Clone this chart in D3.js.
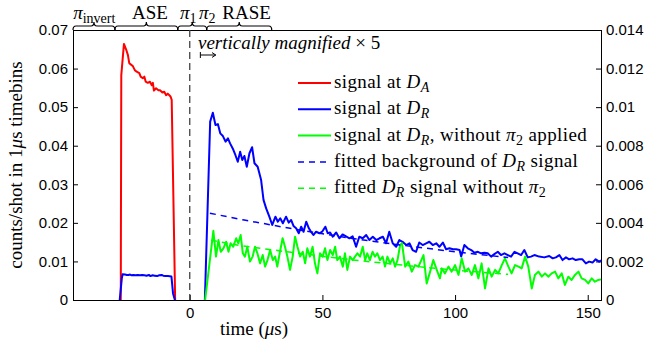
<!DOCTYPE html>
<html>
<head>
<meta charset="utf-8">
<script src="https://cdn.jsdelivr.net/npm/d3@7"></script>
<style>
  body { margin: 0; background: #fff; }
  #chart text { font-family: 'Liberation Serif', serif; }
  #chart .tick text { font-family: 'Liberation Sans', sans-serif; font-size: 15px; fill: #000; }
</style>
</head>
<body>
<svg id="chart" width="649" height="353"></svg>
<script>
// ---- data (time in µs, counts/shot) ----
// signal at D_A (left axis)
const signalDA = [
  [-26.0, 0], [-25.8, 0.0583], [-24.8, 0.0664], [-24.0, 0.0650], [-23.3, 0.0635],
  [-22.8, 0.0614], [-21.9, 0.0609], [-21.5, 0.0607], [-20.7, 0.0596], [-20.0, 0.0592],
  [-19.0, 0.0588], [-18.5, 0.0579], [-17.7, 0.0575], [-17.1, 0.0579], [-16.6, 0.0566],
  [-15.8, 0.0563], [-15.0, 0.0566], [-14.3, 0.0557], [-13.9, 0.0563], [-13.5, 0.0543],
  [-12.7, 0.0549], [-11.8, 0.0544], [-11.2, 0.0544], [-10.3, 0.0538], [-9.6, 0.0540],
  [-8.9, 0.0531], [-8.3, 0.0535], [-7.7, 0.0531], [-7.2, 0.0527], [-6.8, 0.0519],
  [-5.5, 0]
];

// signal at D_R during the ASE window (left axis)
const signalDRase = [
  [-26.4, 0], [-25.6, 0.0056], [-25.3, 0.0067], [-24.4, 0.0066], [-23.7, 0.0065],
  [-23.1, 0.0065], [-22.5, 0.0066], [-21.9, 0.0064], [-21.3, 0.0065], [-20.4, 0.0064],
  [-19.6, 0.0065], [-18.8, 0.0064], [-17.9, 0.0065], [-17.1, 0.0064], [-16.3, 0.0063],
  [-15.4, 0.0065], [-14.8, 0.0062], [-14.0, 0.0064], [-13.2, 0.0063], [-12.3, 0.0062],
  [-11.5, 0.0064], [-10.6, 0.0065], [-10.0, 0.0063], [-9.2, 0.0062], [-8.2, 0.0062],
  [-6.9, 0.0061], [-6.3, 0.0017], [-5.6, 0]
];

// signal at D_R after the pulses (right axis, magnified x5)
const signalDR = [
  [5.7, 0], [7.7, 0.00925], [8.7, 0.00971], [9.7, 0.00907], [10.6, 0.00912], [11.5, 0.00864],
  [12.5, 0.0085], [13.5, 0.00821], [14.4, 0.00838], [15.2, 0.00812], [16.2, 0.00786],
  [17.2, 0.00752], [18.1, 0.00717], [19.0, 0.00769], [19.8, 0.00726], [20.6, 0.00747],
  [21.5, 0.00691], [22.5, 0.00761], [23.5, 0.00792], [24.4, 0.00709], [25.6, 0.00691],
  [26.9, 0.00622], [27.8, 0.00519], [28.8, 0.00475], [30.0, 0.00432], [31.1, 0.00389],
  [32.3, 0.00432], [33.2, 0.00406], [34.1, 0.00424], [35.1, 0.00398], [36.3, 0.00432],
  [37.3, 0.00401], [38.2, 0.00415], [39.1, 0.00384], [40.1, 0.00372], [41.1, 0.00346],
  [42.0, 0.0038], [42.9, 0.00354], [43.9, 0.00406], [44.9, 0.00372], [45.7, 0.00354],
  [46.6, 0.00337], [47.6, 0.00354], [48.9, 0.00346], [49.9, 0.00354], [51.1, 0.0038],
  [52.0, 0.00346], [52.9, 0.0035], [53.9, 0.00328], [55.2, 0.0035], [56.4, 0.0032],
  [57.6, 0.0034], [58.9, 0.0033], [60.2, 0.0032], [61.4, 0.0033], [62.7, 0.00276],
  [63.9, 0.00328], [65.2, 0.0032], [66.5, 0.00337], [67.7, 0.00311], [69.0, 0.00328],
  [70.3, 0.00311], [71.5, 0.0032], [72.8, 0.00328], [74.0, 0.00294], [75.2, 0.00354],
  [76.5, 0.00294], [77.8, 0.00276], [79.0, 0.00311], [80.2, 0.00302], [81.6, 0.00285],
  [82.8, 0.00294], [84.0, 0.00259], [85.3, 0.0025], [86.5, 0.00298], [87.8, 0.00285],
  [89.1, 0.00294], [90.3, 0.00302], [91.6, 0.00285], [92.9, 0.00294], [94.1, 0.00276],
  [95.4, 0.00298], [96.6, 0.00263], [97.9, 0.00268], [99.2, 0.00263], [100.4, 0.00263],
  [101.7, 0.00259], [102.3, 0.00225], [103.5, 0.00285], [104.8, 0.00268], [106.1, 0.00259],
  [107.3, 0.00245], [108.6, 0.0025], [109.8, 0.00242], [111.1, 0.00245], [112.3, 0.00242],
  [113.6, 0.00225], [114.8, 0.00238], [116.1, 0.0025], [117.3, 0.00233], [118.6, 0.00242],
  [119.9, 0.00233], [121.1, 0.00225], [122.4, 0.0025], [123.6, 0.00242], [124.9, 0.00233],
  [126.1, 0.00259], [127.4, 0.00221], [128.6, 0.00225], [129.9, 0.00233], [131.7, 0.00225],
  [133.6, 0.00221], [135.5, 0.00228], [136.8, 0.00216], [138.0, 0.00221], [139.3, 0.00233],
  [140.5, 0.00207], [141.8, 0.00221], [143.0, 0.00211], [144.3, 0.00216], [145.5, 0.00207],
  [146.8, 0.00211], [148.0, 0.00211], [149.3, 0.0019], [150.5, 0.00199], [151.8, 0.00194],
  [153.0, 0.00211], [154.3, 0.00199], [155.0, 0.00205]
];

// signal at D_R without pi_2 (right axis)
const signalDRnoPi2 = [
  [5.8, 0], [8.9, 0.00359], [9.9, 0.00225], [10.8, 0.00311], [11.7, 0.0025], [12.7, 0.00268],
  [13.7, 0.00302], [14.6, 0.0025], [15.4, 0.00294], [16.4, 0.00276], [17.5, 0.0032],
  [18.3, 0.00294], [19.2, 0.00337], [20.0, 0.00242], [20.8, 0.00225], [21.7, 0.00276],
  [22.7, 0.00199], [23.7, 0.00225], [24.6, 0.00276], [25.5, 0.00242], [26.5, 0.0019],
  [27.5, 0.00233], [28.4, 0.00173], [29.3, 0.00207], [30.3, 0.00259], [31.3, 0.00207],
  [32.2, 0.00225], [33.0, 0.00173], [34.0, 0.0025], [35.0, 0.0032], [35.9, 0.00276],
  [36.8, 0.00225], [37.8, 0.00156], [38.8, 0.00225], [39.7, 0.00328], [40.6, 0.00276],
  [41.6, 0.00225], [42.6, 0.0025], [43.5, 0.0019], [44.3, 0.00268], [45.3, 0.00225],
  [46.3, 0.00276], [47.2, 0.0019], [48.1, 0.00138], [49.1, 0.00242], [50.1, 0.00225],
  [51.0, 0.00268], [51.9, 0.00207], [52.9, 0.00259], [53.9, 0.00233], [54.8, 0.00276],
  [55.6, 0.00207], [56.6, 0.00225], [57.7, 0.00173], [58.5, 0.00242], [59.4, 0.00156],
  [60.4, 0.00225], [61.4, 0.00207], [62.3, 0.00225], [63.2, 0.00242], [64.2, 0.00225],
  [65.2, 0.00276], [66.1, 0.00207], [66.9, 0.00242], [67.9, 0.00207], [68.9, 0.0025],
  [69.8, 0.00225], [70.7, 0.00242], [71.7, 0.00207], [72.7, 0.00225], [73.6, 0.00173],
  [74.5, 0.00225], [75.5, 0.0019], [76.5, 0.00216], [77.4, 0.00173], [78.3, 0.00207],
  [79.3, 0.00285], [80.0, 0.00294], [81.2, 0.00173], [82.4, 0.00199], [83.7, 0.00147],
  [84.9, 0.00181], [86.2, 0.00173], [88.1, 0.00233], [89.3, 0.00086], [90.6, 0.00147],
  [91.8, 0.00207], [93.1, 0.00156], [94.3, 0.00112], [95.0, 0.00164], [96.2, 0.00138],
  [97.5, 0.00173], [98.7, 0.00147], [100.0, 0.00181], [101.3, 0.0013], [102.5, 0.00216],
  [103.8, 0.00147], [105.0, 0.00164], [106.3, 0.0013], [107.5, 0.00181], [108.8, 0.00112],
  [110.0, 0.0019], [111.3, 0.0006], [112.6, 0.00164], [113.8, 0.00121], [115.1, 0.00156],
  [116.3, 0.00138], [117.6, 0.00181], [118.8, 0.00216], [120.1, 0.00173], [121.3, 0.00138],
  [122.6, 0.00181], [123.9, 0.00173], [125.1, 0.00164], [126.4, 0.00225], [127.6, 0.00173],
  [128.9, 0.0006], [130.1, 0.0013], [131.4, 0.00147], [132.7, 0.00121], [133.9, 0.00138],
  [135.2, 0.00121], [136.4, 0.00138], [137.7, 0.00147], [138.9, 0.00112], [140.2, 0.00138],
  [141.4, 0.00078], [142.7, 0.00121], [143.9, 0.00104], [145.2, 0.0013], [146.5, 0.00147],
  [147.7, 0.00112], [149.0, 0.00104], [150.2, 0.00086], [151.5, 0.00112], [152.7, 0.00095],
  [154.0, 0.00104], [155.0, 0.00107]
];

// fitted curves (right axis)
const fitBackground = [
  [7.6, 0.0045], [20, 0.00416], [40, 0.00366], [60, 0.00322], [80, 0.00284], [100, 0.0025], [120, 0.0022]
];
const fitNoPi2 = [
  [8, 0.0031], [20, 0.0028], [40, 0.00244], [60, 0.0021], [80, 0.00181], [100, 0.00155], [120, 0.00133]
];

const xTicks = [0, 50, 100, 150];
const leftTicks = [0, 0.01, 0.02, 0.03, 0.04, 0.05, 0.06, 0.07];
const rightTicks = [0, 0.002, 0.004, 0.006, 0.008, 0.01, 0.012, 0.014];

// pulse sequence phases shown with braces above the plot
const phases = [
  { from: -44, to: -28.2 },
  { from: -28.2, to: -4.5 },
  { from: -4.5, to: 6.4 },
  { from: 6.4, to: 30.9 }
];
const phaseLabels = [
  { t: -36, main: 'π', sub: 'invert' },
  { t: -15, main: 'ASE' },
  { t: -0.6, main: 'π', sub: '1' },
  { t: 6.6, main: 'π', sub: '2' },
  { t: 21.4, main: 'RASE' }
];

const legendItems = [
  { color: '#ff0000', dash: null, parts: [['signal at ', 'n'], ['D', 'i'], ['A', 'si']] },
  { color: '#0000ff', dash: null, parts: [['signal at ', 'n'], ['D', 'i'], ['R', 'si']] },
  { color: '#00ff00', dash: null, parts: [['signal at ', 'n'], ['D', 'i'], ['R', 'si'], [', without ', 'n'], ['π', 'i'], ['2', 's'], [' applied', 'n']] },
  { color: '#0000ff', dash: '6,5', parts: [['fitted background of ', 'n'], ['D', 'i'], ['R', 'si'], [' signal', 'n']] },
  { color: '#00ff00', dash: '6,5', parts: [['fitted ', 'n'], ['D', 'i'], ['R', 'si'], [' signal without ', 'n'], ['π', 'i'], ['2', 's']] }
];

// ---- layout ----
const width = 649, height = 353;
const margin = { top: 30, right: 48, bottom: 53, left: 73 };

const svg = d3.select('#chart');

const x = d3.scaleLinear()
  .domain([-44, 155])
  .range([margin.left, width - margin.right]);

const yLeft = d3.scaleLinear()
  .domain([0, 0.07])
  .range([height - margin.bottom, margin.top]);

const yRight = d3.scaleLinear()
  .domain([0, 0.014])
  .range([height - margin.bottom, margin.top]);

const x0 = margin.left, x1 = width - margin.right;
const y0 = height - margin.bottom, y1 = margin.top;

// axes (ticks point inwards, MATLAB style)
const fmt = d => d === 0 ? '0' : String(+d.toFixed(3));

svg.append('g')
  .attr('transform', `translate(0,${y0})`)
  .call(d3.axisBottom(x).tickValues(xTicks).tickSize(-5).tickPadding(7).tickFormat(d => d))
  .call(g => g.select('.domain').remove());

svg.append('g')
  .attr('transform', `translate(${x0},0)`)
  .call(d3.axisLeft(yLeft).tickValues(leftTicks).tickSize(-5).tickPadding(5).tickFormat(fmt))
  .call(g => g.select('.domain').remove());

svg.append('g')
  .attr('transform', `translate(${x1},0)`)
  .call(d3.axisRight(yRight).tickValues(rightTicks).tickSize(-5).tickPadding(5).tickFormat(fmt))
  .call(g => g.select('.domain').remove());

svg.selectAll('.tick line').attr('stroke', '#000');

// box
svg.append('rect')
  .attr('x', x0 + 0.5)
  .attr('y', y1 + 0.5)
  .attr('width', x1 - x0)
  .attr('height', y0 - y1)
  .attr('fill', 'none')
  .attr('stroke', '#000')
  .attr('stroke-width', 1);

// t = 0 marker
svg.append('line')
  .attr('x1', x(0)).attr('x2', x(0))
  .attr('y1', y1).attr('y2', y0)
  .attr('stroke', '#444')
  .attr('stroke-width', 1.3)
  .attr('stroke-dasharray', '7,4');

// series
const lineL = d3.line().x(d => x(d[0])).y(d => yLeft(d[1]));
const lineR = d3.line().x(d => x(d[0])).y(d => yRight(d[1]));

const plot = svg.append('g');

plot.append('path').datum(signalDA)
  .attr('d', lineL).attr('fill', 'none')
  .attr('stroke', '#ff0000').attr('stroke-width', 2).attr('stroke-linejoin', 'round');

plot.append('path').datum(signalDRase)
  .attr('d', lineL).attr('fill', 'none')
  .attr('stroke', '#0000ff').attr('stroke-width', 2).attr('stroke-linejoin', 'round');

plot.append('path').datum(signalDR)
  .attr('d', lineR).attr('fill', 'none')
  .attr('stroke', '#0000ff').attr('stroke-width', 2).attr('stroke-linejoin', 'round');

plot.append('path').datum(signalDRnoPi2)
  .attr('d', lineR).attr('fill', 'none')
  .attr('stroke', '#00ff00').attr('stroke-width', 2).attr('stroke-linejoin', 'round');

plot.append('path').datum(fitBackground)
  .attr('d', lineR).attr('fill', 'none')
  .attr('stroke', '#0000ff').attr('stroke-width', 1.5).attr('stroke-dasharray', '6,5');

plot.append('path').datum(fitNoPi2)
  .attr('d', lineR).attr('fill', 'none')
  .attr('stroke', '#00ff00').attr('stroke-width', 1.5).attr('stroke-dasharray', '6,5');

// legend
const legend = svg.append('g').attr('transform', 'translate(298,83)');
legendItems.forEach((item, i) => {
  const row = legend.append('g').attr('transform', `translate(0,${i * 26.3})`);
  row.append('line')
    .attr('x1', 0).attr('x2', 33)
    .attr('stroke', item.color)
    .attr('stroke-width', item.dash ? 1.5 : 2)
    .attr('stroke-dasharray', item.dash);
  const txt = row.append('text')
    .attr('x', 36).attr('y', 5)
    .style('font-size', '19px')
    .style('letter-spacing', '0.4px');
  item.parts.forEach(([s, style]) => {
    const ts = txt.append('tspan').text(s);
    if (style === 'i') ts.style('font-style', 'italic');
    if (style === 'si' || style === 's') {
      ts.style('font-size', '14px').attr('baseline-shift', '-25%');
      if (style === 'si') ts.style('font-style', 'italic');
    }
  });
});

// braces above the plot
const brace = (a, b, yb, h) => {
  const xa = x(a), xb = x(b), xm = (xa + xb) / 2, ym = yb - h / 2, yt = yb - h, r = 3;
  return `M${xa},${yb} Q${xa},${ym} ${xa + r},${ym} L${xm - r},${ym} Q${xm},${ym} ${xm},${yt}` +
    ` Q${xm},${ym} ${xm + r},${ym} L${xb - r},${ym} Q${xb},${ym} ${xb},${yb}`;
};

svg.append('g').selectAll('path')
  .data(phases)
  .join('path')
  .attr('d', d => brace(d.from, d.to, y1, 8))
  .attr('fill', 'none')
  .attr('stroke', '#000')
  .attr('stroke-width', 1.2);

phaseLabels.forEach(l => {
  const t = svg.append('text')
    .attr('x', x(l.t)).attr('y', 19)
    .attr('text-anchor', 'middle')
    .style('font-size', '19px');
  if (l.sub) {
    t.append('tspan').style('font-style', 'italic').text(l.main);
    t.append('tspan').style('font-size', '14px').attr('baseline-shift', '-25%').text(l.sub);
  } else {
    t.text(l.main);
  }
});

// magnification note
const note = svg.append('text')
  .attr('x', 198).attr('y', 49)
  .style('font-size', '19px');
note.append('tspan').style('font-style', 'italic').text('vertically magnified');
note.append('tspan').text(' × 5');

svg.append('path')
  .attr('d', `M${x(4)},52 V58 M${x(4)},55 H${x(9.8)} M${x(8.4)},52.6 L${x(9.8)},55 L${x(8.4)},57.4`)
  .attr('fill', 'none')
  .attr('stroke', '#000')
  .attr('stroke-width', 1);

// axis titles
const yTitle = svg.append('text')
  .attr('transform', `translate(22,${(y0 + y1) / 2}) rotate(-90)`)
  .attr('text-anchor', 'middle')
  .style('font-size', '19px');
yTitle.append('tspan').text('counts/shot in 1');
yTitle.append('tspan').style('font-style', 'italic').text('μ');
yTitle.append('tspan').text('s timebins');

const xTitle = svg.append('text')
  .attr('x', 254).attr('y', 335)
  .attr('text-anchor', 'middle')
  .style('font-size', '19px');
xTitle.append('tspan').text('time (');
xTitle.append('tspan').style('font-style', 'italic').text('μ');
xTitle.append('tspan').text('s)');
</script>
</body>
</html>
